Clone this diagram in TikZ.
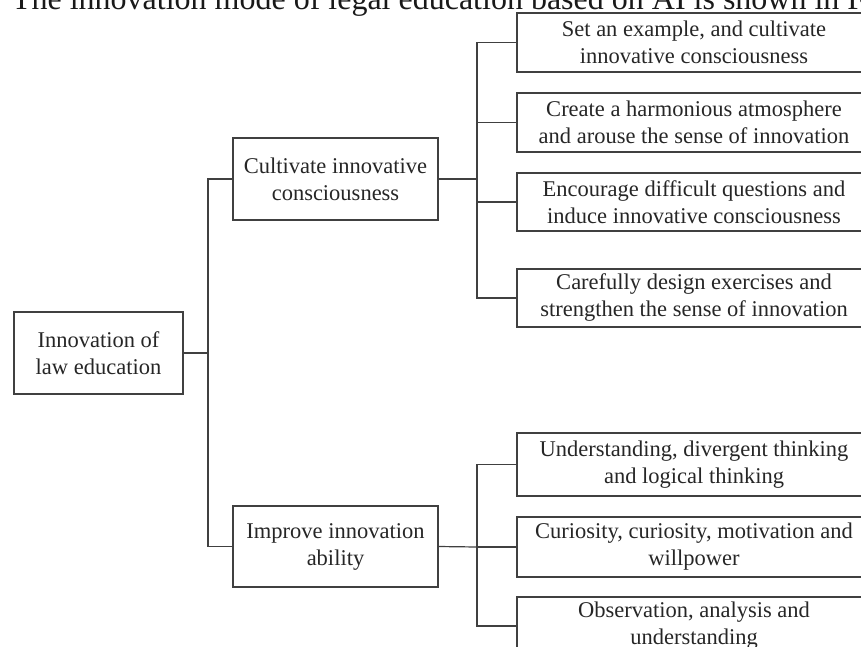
\documentclass[tikz,border=0pt]{standalone}
\usepackage{fontspec}
\setmainfont{Liberation Serif}
\begin{document}
\begin{tikzpicture}[x=1pt,y=1pt,
  every node/.style={inner sep=0pt, outer sep=0pt},
  box/.style={draw=black!75, line width=1.2pt, rectangle, align=center,
    font=\fontsize{22.5}{27}\selectfont, text=black!85},
  conn/.style={draw=black!75, line width=1.2pt}]
\useasboundingbox (0,0) rectangle (861,-647);
\clip (0,0) rectangle (861,-647);
% title
\node[anchor=base west, font=\fontsize{32}{34}\selectfont, text=black!90] (title) at (12,-10) {The innovation mode of legal education based on AI is shown in F};
% root
\node[box, minimum width=169pt, minimum height=82pt] (root) at (98.5,-353) {Innovation of\\law education};
\node[box, minimum width=205pt, minimum height=82pt] (cult) at (335.5,-179) {Cultivate innovative\\consciousness};
\node[box, minimum width=205pt, minimum height=81pt] (impr) at (335.5,-546.5) {Improve innovation\\ability};
% right boxes
\node[box, minimum width=354pt, minimum height=59pt] (b1) at (694,-42.5) {Set an example, and cultivate\\innovative consciousness};
\node[box, minimum width=354pt, minimum height=59pt] (b2) at (694,-122.5) {Create a harmonious atmosphere\\and arouse the sense of innovation};
\node[box, minimum width=354pt, minimum height=58pt] (b3) at (694,-202) {Encourage difficult questions and\\induce innovative consciousness};
\node[box, minimum width=354pt, minimum height=58pt] (b4) at (694,-298) {Carefully design exercises and\\strengthen the sense of innovation};
\node[box, minimum width=354pt, minimum height=63pt] (b5) at (694,-464.5) {Understanding, divergent thinking\\and logical thinking};
\node[box, minimum width=354pt, minimum height=60pt] (b6) at (694,-547) {Curiosity, curiosity, motivation and\\willpower};
\node[box, minimum width=354pt, minimum height=58pt] (b7) at (694,-626) {Observation, analysis and\\understanding};
% connectors
\coordinate (j0) at (208,-353);
\coordinate (j1) at (477,-179);
\coordinate (j2) at (477,-547);
\draw[conn] (root.east) -- (j0);
\draw[conn] (j0) |- (cult.west);
\draw[conn] (j0) |- (impr.west);
\draw[conn] (cult.east) -- (j1);
\foreach \b in {b1,b2,b3,b4} \draw[conn] (j1) |- (\b.west);
\draw[conn] (impr.east) -- (j2);
\foreach \b in {b5,b6,b7} \draw[conn] (j2) |- (\b.west);
\end{tikzpicture}
\end{document}
